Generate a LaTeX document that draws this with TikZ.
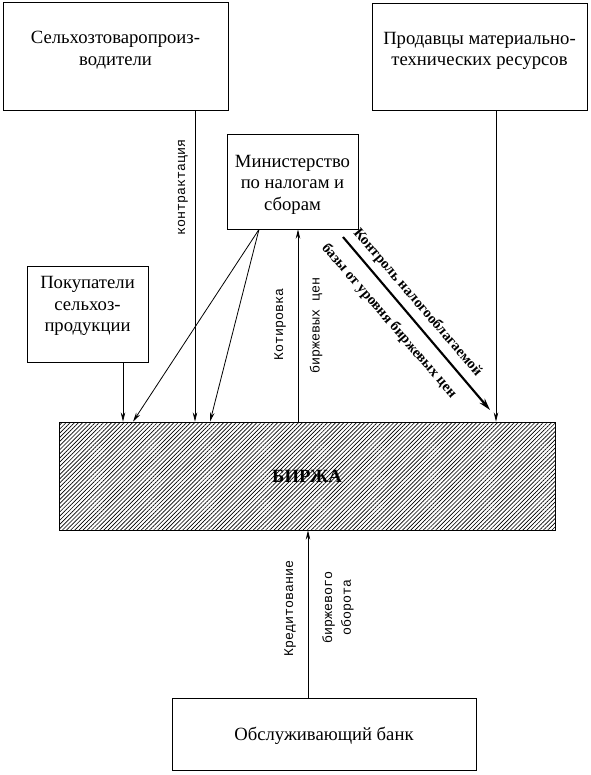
\documentclass[tikz,border=0pt]{standalone}
\usepackage{fontspec}
\setmainfont{Liberation Serif}
\setmonofont{Liberation Mono}
\usepackage{tikz}
\usetikzlibrary{arrows.meta,patterns.meta}

\begin{document}
\begin{tikzpicture}[x=0.75pt,y=-0.75pt,
    box/.style={draw,line width=.6pt,align=center,inner sep=2pt,font=\fontsize{14}{16.1}\selectfont},
    arr/.style={line width=.6pt,-{Stealth[length=7pt,width=3.4pt]}},
    lab/.style={font=\ttfamily\fontsize{10}{14}\selectfont,align=center,inner sep=0pt},
    diag/.style={font=\bfseries\fontsize{11}{13}\selectfont,inner sep=0pt,rotate=-49.3}]
    \useasboundingbox (0,0) rectangle (591,775);
    \node[box,minimum width=168.75pt,minimum height=81pt] (selhoz) at (115.5,56) {Сельхозтоваропроиз-\\водители\\[-4.9pt]\mbox{}};
    \node[box,minimum width=161.25pt,minimum height=80.25pt] (prodavcy) at (479.5,56.5) {Продавцы материально-\\технических ресурсов\\[-4.9pt]\mbox{}};
    \node[box,minimum width=98.25pt,minimum height=71.25pt] (minist) at (292.5,181.5) {\mbox{}\\[-1.9pt]Министерство\\по налогам и\\сборам};
    \node[box,minimum width=90.75pt,minimum height=72pt] (pokup) at (87.5,314) {Покупатели\\сельхоз-\\продукции\\[-1.1pt]\mbox{}};
    \node[box,minimum width=372pt,minimum height=81pt,pattern={Lines[angle=45,distance=2.2pt,line width=.5pt]},font=\bfseries\fontsize{14}{16}\selectfont] (birzha) at (307,476) {БИРЖА};
    \node[box,minimum width=228pt,minimum height=54pt] (bank) at (324,734) {\mbox{}\\[-2.6pt]Обслуживающий банк};
    % flows into the exchange
    \draw[arr] (195,0 |- selhoz.south) -- (195,0 |- birzha.north);
    \node[lab,rotate=90] (kontr) at (183,187) {контрактация};
    \draw[arr] (123,0 |- pokup.south) -- (123,0 |- birzha.north);
    \draw[arr] (259,0 |- minist.south) -- (133,0 |- birzha.north);
    \draw[arr] (259,0 |- minist.south) -- (210,0 |- birzha.north);
    \draw[arr] (496,0 |- prodavcy.south) -- (496,0 |- birzha.north);
    % quotation back to the ministry
    \draw[arr] (298,0 |- birzha.north) -- (298,0 |- minist.south);
    \node[lab,rotate=90] (kotir) at (280,324) {Котировка};
    \node[lab,rotate=90] (bircen) at (316,325) {биржевых цен};
    % tax control
    \coordinate (kstart) at (343,237);
    \coordinate (kend) at (490,410);
    \draw[line width=1.6pt,-{Stealth[length=9pt,width=5pt]}] (kstart) -- (kend);
    \node[diag] (kontrol) at (417.5,302.5) {Контроль налогооблагаемой};
    \node[diag] (bazy) at (389,321) {базы от уровня биржевых цен};
    % bank credit
    \draw[arr] (308,0 |- bank.north) -- (308,0 |- birzha.south);
    \node[lab,rotate=90] (kredit) at (290,608) {Кредитование};
    \node[lab,rotate=90] (oborot) at (338,607) {биржевого\\оборота};
  \end{tikzpicture}
\end{document}
